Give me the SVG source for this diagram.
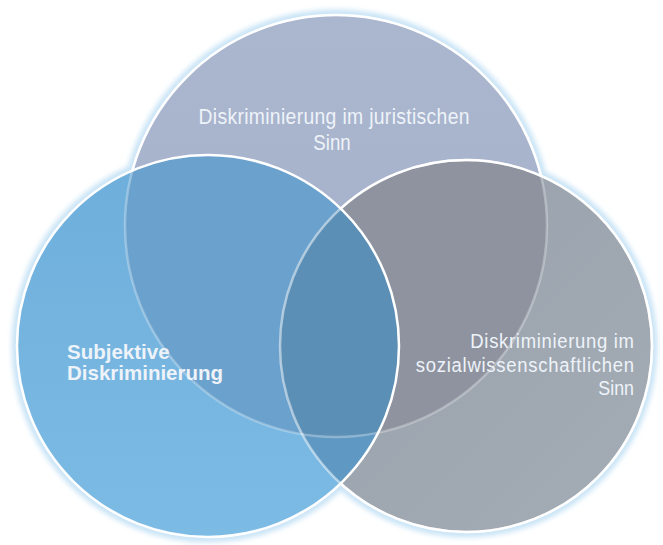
<svg xmlns="http://www.w3.org/2000/svg" width="663" height="545" viewBox="0 0 663 545">
  <style>
    .lbl { font-family: "Liberation Sans", Arial, sans-serif; fill: #eef3f9; }
    .reg { font-size: 22px; }
    .reg2 { font-size: 21px; }
    .bold { font-size: 20.5px; font-weight: bold; }
    .glow { fill: none; stroke: #c9e4f6; stroke-width: 9; }
    .edge { fill: none; stroke: #ffffff; stroke-width: 2.5; }
  </style>
  <defs>
    <clipPath id="cT"><circle cx="336" cy="226" r="211"/></clipPath>
    <clipPath id="cL"><circle cx="208" cy="346" r="191"/></clipPath>
    <clipPath id="cR"><circle cx="466" cy="346" r="186"/></clipPath>
    <mask id="outLR" maskUnits="userSpaceOnUse" x="0" y="0" width="663" height="545">
      <rect x="0" y="0" width="663" height="545" fill="#fff"/>
      <circle cx="208" cy="346" r="190" fill="#000"/>
      <circle cx="466" cy="346" r="185" fill="#000"/>
    </mask>
    <mask id="outL" maskUnits="userSpaceOnUse" x="0" y="0" width="663" height="545">
      <rect x="0" y="0" width="663" height="545" fill="#fff"/>
      <circle cx="208" cy="346" r="190" fill="#000"/>
    </mask>
    <filter id="blur" x="-10%" y="-10%" width="120%" height="120%">
      <feGaussianBlur stdDeviation="2.5"/>
    </filter>
    <linearGradient id="gT" x1="0" y1="0" x2="0" y2="1">
      <stop offset="0" stop-color="#abb7cf"/>
      <stop offset="1" stop-color="#a2afc8"/>
    </linearGradient>
    <linearGradient id="gL" x1="0" y1="0" x2="0" y2="1">
      <stop offset="0" stop-color="#6eaedb"/>
      <stop offset="1" stop-color="#7cbbe4"/>
    </linearGradient>
    <linearGradient id="gR" x1="0" y1="0" x2="1" y2="1">
      <stop offset="0" stop-color="#979fab"/>
      <stop offset="1" stop-color="#a4adb5"/>
    </linearGradient>
  </defs>

  <rect x="0" y="0" width="663" height="545" fill="#ffffff"/>

  <!-- outer glow -->
  <g filter="url(#blur)">
    <circle class="glow" cx="336" cy="226" r="212"/>
    <circle class="glow" cx="208" cy="346" r="192"/>
    <circle class="glow" cx="466" cy="346" r="187"/>
  </g>

  <!-- base fills -->
  <g id="circle-juristisch">
    <circle cx="336" cy="226" r="211" fill="url(#gT)"/>
  </g>
  <g id="circle-sozial">
    <circle cx="466" cy="346" r="186" fill="url(#gR)"/>
  </g>
  <g id="circle-subjektiv">
    <circle cx="208" cy="346" r="191" fill="url(#gL)"/>
  </g>

  <!-- overlaps -->
  <g id="overlaps">
    <circle cx="208" cy="346" r="191" fill="#6aa1cd" clip-path="url(#cT)"/>
    <circle cx="466" cy="346" r="186" fill="#8e939f" clip-path="url(#cT)"/>
    <circle cx="466" cy="346" r="186" fill="#5f98c2" clip-path="url(#cL)"/>
    <g clip-path="url(#cT)">
      <circle cx="466" cy="346" r="186" fill="#5b8fb6" clip-path="url(#cL)"/>
    </g>
  </g>

  <!-- outlines -->
  <g id="outlines">
    <circle class="edge" cx="336" cy="226" r="211" stroke-opacity="0.3"/>
    <circle class="edge" cx="336" cy="226" r="211" mask="url(#outLR)"/>
    <circle class="edge" cx="466" cy="346" r="186" stroke-opacity="0.5"/>
    <circle class="edge" cx="466" cy="346" r="186" mask="url(#outL)"/>
    <circle class="edge" cx="208" cy="346" r="191"/>
  </g>

  <!-- labels -->
  <g id="labels">
    <text class="lbl reg" transform="translate(334,124) scale(0.88,1)" x="0" y="0" text-anchor="middle" textLength="308" lengthAdjust="spacing">Diskriminierung im juristischen</text>
    <text class="lbl reg" transform="translate(332,150) scale(0.85,1)" x="0" y="0" text-anchor="middle">Sinn</text>

    <text class="lbl bold" x="67" y="359">Subjektive</text>
    <text class="lbl bold" x="67" y="380">Diskriminierung</text>

    <text class="lbl reg2" transform="translate(634,348) scale(0.88,1)" x="0" y="0" text-anchor="end" textLength="186" lengthAdjust="spacing">Diskriminierung im</text>
    <text class="lbl reg2" transform="translate(634,372) scale(0.88,1)" x="0" y="0" text-anchor="end" textLength="248" lengthAdjust="spacing">sozialwissenschaftlichen</text>
    <text class="lbl reg2" transform="translate(634,395) scale(0.85,1)" x="0" y="0" text-anchor="end">Sinn</text>
  </g>
</svg>
